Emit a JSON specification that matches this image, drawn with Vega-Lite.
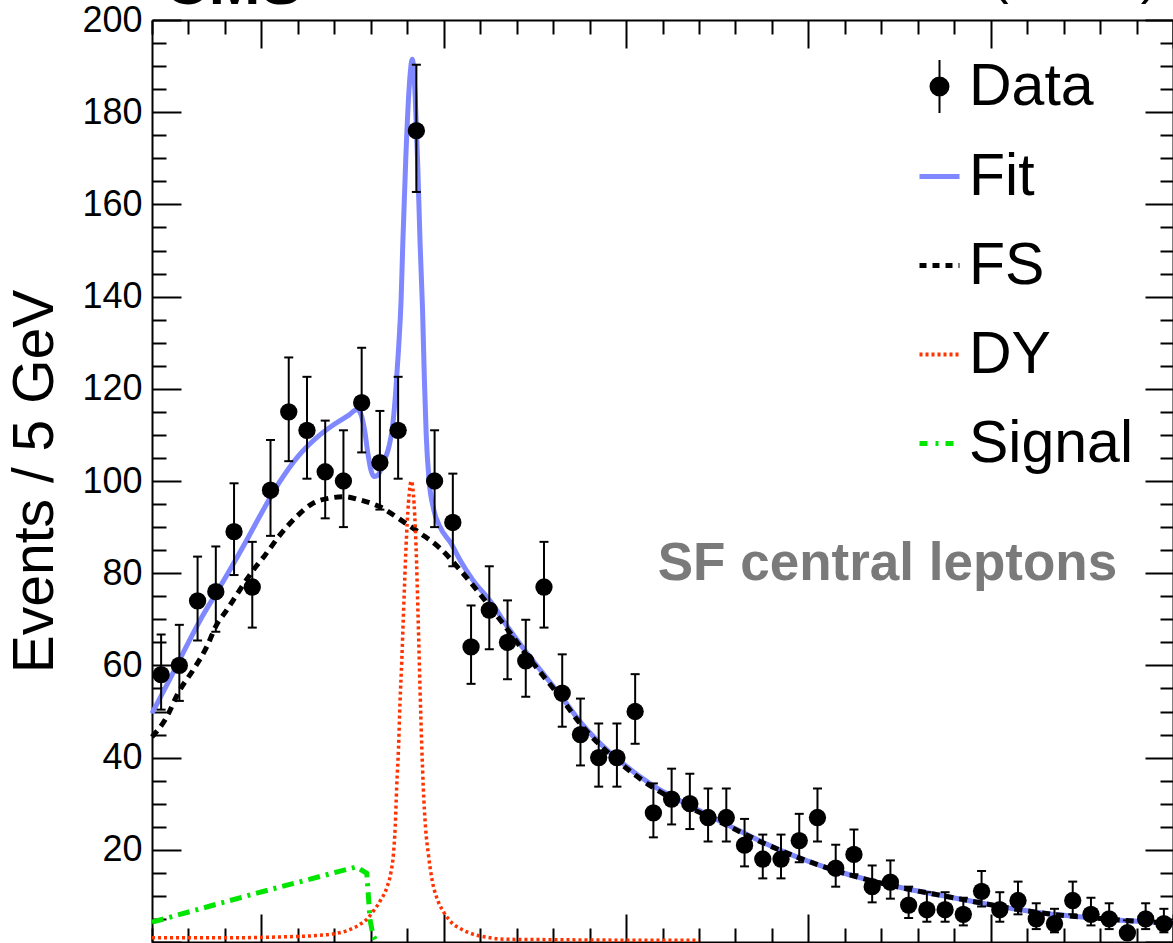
{
  "$schema": "https://vega.github.io/schema/vega-lite/v6.json",
  "autosize": {"type": "none"},
  "padding": {"left": 152, "top": 20, "right": 0, "bottom": 1},
  "width": 1021,
  "height": 922,
  "background": "white",
  "config": {"view": {"stroke": null}},
  "datasets": {
    "curves": [
      {"series": "Fit", "m": 20, "v": 49.6}, {"series": "Fit", "m": 25, "v": 57.2}, {"series": "Fit", "m": 30, "v": 65.0}, {"series": "Fit", "m": 33.2, "v": 69.8}, {"series": "Fit", "m": 38.7, "v": 77.1}, {"series": "Fit", "m": 46, "v": 87.2}, {"series": "Fit", "m": 50, "v": 93.0}, {"series": "Fit", "m": 55, "v": 99.8}, {"series": "Fit", "m": 60, "v": 105.3}, {"series": "Fit", "m": 65, "v": 109.3}, {"series": "Fit", "m": 70, "v": 112.3}, {"series": "Fit", "m": 74, "v": 114.3}, {"series": "Fit", "m": 76.2, "v": 115.5}, {"series": "Fit", "m": 77.3, "v": 114.5}, {"series": "Fit", "m": 78.3, "v": 111}, {"series": "Fit", "m": 79.2, "v": 106}, {"series": "Fit", "m": 80.0, "v": 102.5}, {"series": "Fit", "m": 80.8, "v": 101}, {"series": "Fit", "m": 81.8, "v": 101.2}, {"series": "Fit", "m": 82.8, "v": 102.5}, {"series": "Fit", "m": 84.0, "v": 105}, {"series": "Fit", "m": 85.0, "v": 107.5}, {"series": "Fit", "m": 86.0, "v": 112}, {"series": "Fit", "m": 86.8, "v": 119}, {"series": "Fit", "m": 87.6, "v": 128.5}, {"series": "Fit", "m": 88.3, "v": 139}, {"series": "Fit", "m": 88.8, "v": 152}, {"series": "Fit", "m": 89.6, "v": 170}, {"series": "Fit", "m": 90.5, "v": 185}, {"series": "Fit", "m": 91.4, "v": 191.5}, {"series": "Fit", "m": 92.2, "v": 183}, {"series": "Fit", "m": 92.9, "v": 168}, {"series": "Fit", "m": 93.5, "v": 152}, {"series": "Fit", "m": 94.2, "v": 137}, {"series": "Fit", "m": 94.7, "v": 122}, {"series": "Fit", "m": 95.2, "v": 110}, {"series": "Fit", "m": 96.0, "v": 100}, {"series": "Fit", "m": 97.2, "v": 94}, {"series": "Fit", "m": 99, "v": 90}, {"series": "Fit", "m": 102, "v": 86.5}, {"series": "Fit", "m": 104.5, "v": 82.8}, {"series": "Fit", "m": 108, "v": 78.5}, {"series": "Fit", "m": 112.7, "v": 74}, {"series": "Fit", "m": 117.3, "v": 68.6}, {"series": "Fit", "m": 122, "v": 63.5}, {"series": "Fit", "m": 127, "v": 58.5}, {"series": "Fit", "m": 132.5, "v": 53}, {"series": "Fit", "m": 137.5, "v": 47.7}, {"series": "Fit", "m": 142.5, "v": 43.4}, {"series": "Fit", "m": 147.5, "v": 39.8}, {"series": "Fit", "m": 157.4, "v": 33.9}, {"series": "Fit", "m": 167.4, "v": 29.6}, {"series": "Fit", "m": 177.4, "v": 25.6}, {"series": "Fit", "m": 187.3, "v": 21.7}, {"series": "Fit", "m": 197.3, "v": 18.3}, {"series": "Fit", "m": 207.8, "v": 15.4}, {"series": "Fit", "m": 217.2, "v": 13.3}, {"series": "Fit", "m": 227.2, "v": 11.5}, {"series": "Fit", "m": 237.1, "v": 10}, {"series": "Fit", "m": 247.1, "v": 8.5}, {"series": "Fit", "m": 257.1, "v": 7.1}, {"series": "Fit", "m": 267, "v": 6}, {"series": "Fit", "m": 277, "v": 5.3}, {"series": "Fit", "m": 288, "v": 4.6}, {"series": "Fit", "m": 300, "v": 4.1},

      {"series": "FS", "m": 20, "v": 44.5}, {"series": "FS", "m": 23.6, "v": 48.2}, {"series": "FS", "m": 27.5, "v": 54.5}, {"series": "FS", "m": 31.3, "v": 59}, {"series": "FS", "m": 35, "v": 64}, {"series": "FS", "m": 37.7, "v": 68.8}, {"series": "FS", "m": 40.5, "v": 72}, {"series": "FS", "m": 44.1, "v": 76.4}, {"series": "FS", "m": 47.8, "v": 80.7}, {"series": "FS", "m": 51, "v": 83.9}, {"series": "FS", "m": 55.1, "v": 88.3}, {"series": "FS", "m": 59.7, "v": 92.3}, {"series": "FS", "m": 64.2, "v": 95.2}, {"series": "FS", "m": 68.8, "v": 96.3}, {"series": "FS", "m": 72.9, "v": 96.6}, {"series": "FS", "m": 77, "v": 95.9}, {"series": "FS", "m": 82.5, "v": 94.4}, {"series": "FS", "m": 88.9, "v": 91.2}, {"series": "FS", "m": 93.5, "v": 88.7}, {"series": "FS", "m": 99, "v": 85.4}, {"series": "FS", "m": 104.5, "v": 80.7}, {"series": "FS", "m": 112.7, "v": 72.7}, {"series": "FS", "m": 117.3, "v": 68}, {"series": "FS", "m": 122, "v": 63}, {"series": "FS", "m": 127, "v": 58}, {"series": "FS", "m": 132.5, "v": 52.6}, {"series": "FS", "m": 137.5, "v": 47.3}, {"series": "FS", "m": 142.5, "v": 43}, {"series": "FS", "m": 147.5, "v": 39.4}, {"series": "FS", "m": 157.4, "v": 33.5}, {"series": "FS", "m": 167.4, "v": 29.2}, {"series": "FS", "m": 177.4, "v": 25.4}, {"series": "FS", "m": 187.3, "v": 21.6}, {"series": "FS", "m": 197.3, "v": 18.3}, {"series": "FS", "m": 207.8, "v": 15.4}, {"series": "FS", "m": 217.2, "v": 13.3}, {"series": "FS", "m": 227.2, "v": 11.5}, {"series": "FS", "m": 237.1, "v": 10}, {"series": "FS", "m": 247.1, "v": 8.5}, {"series": "FS", "m": 257.1, "v": 7.1}, {"series": "FS", "m": 267, "v": 6}, {"series": "FS", "m": 277, "v": 5.3}, {"series": "FS", "m": 288, "v": 4.6}, {"series": "FS", "m": 300, "v": 4.1},

      {"series": "DY", "m": 20, "v": 0.9}, {"series": "DY", "m": 40, "v": 0.9}, {"series": "DY", "m": 55, "v": 1.1}, {"series": "DY", "m": 65, "v": 1.4}, {"series": "DY", "m": 70, "v": 1.8}, {"series": "DY", "m": 74, "v": 2.6}, {"series": "DY", "m": 77, "v": 3.8}, {"series": "DY", "m": 79, "v": 5.0}, {"series": "DY", "m": 80.7, "v": 6.7}, {"series": "DY", "m": 82.5, "v": 8.8}, {"series": "DY", "m": 84.4, "v": 11.8}, {"series": "DY", "m": 85.5, "v": 15}, {"series": "DY", "m": 86.2, "v": 19}, {"series": "DY", "m": 86.7, "v": 25}, {"series": "DY", "m": 87.1, "v": 33.5}, {"series": "DY", "m": 87.6, "v": 42}, {"series": "DY", "m": 88.0, "v": 51.7}, {"series": "DY", "m": 88.5, "v": 61}, {"series": "DY", "m": 88.9, "v": 69.8}, {"series": "DY", "m": 89.8, "v": 88}, {"series": "DY", "m": 90.5, "v": 97}, {"series": "DY", "m": 91.1, "v": 100}, {"series": "DY", "m": 91.7, "v": 97}, {"series": "DY", "m": 92.4, "v": 86}, {"series": "DY", "m": 93.0, "v": 69.8}, {"series": "DY", "m": 93.5, "v": 55}, {"series": "DY", "m": 94.0, "v": 42}, {"series": "DY", "m": 94.4, "v": 33.5}, {"series": "DY", "m": 95.0, "v": 25}, {"series": "DY", "m": 95.8, "v": 19}, {"series": "DY", "m": 96.8, "v": 13.5}, {"series": "DY", "m": 98.1, "v": 9.6}, {"series": "DY", "m": 100, "v": 6.5}, {"series": "DY", "m": 101.7, "v": 4.6}, {"series": "DY", "m": 105, "v": 2.7}, {"series": "DY", "m": 108, "v": 1.7}, {"series": "DY", "m": 112, "v": 1.0}, {"series": "DY", "m": 117, "v": 0.6}, {"series": "DY", "m": 130, "v": 0.5}, {"series": "DY", "m": 150, "v": 0.4}, {"series": "DY", "m": 170, "v": 0.4},

      {"series": "Signal", "m": 20, "v": 4.3}, {"series": "Signal", "m": 48.7, "v": 10.6}, {"series": "Signal", "m": 76.1, "v": 16.3}, {"series": "Signal", "m": 78.9, "v": 14.9}, {"series": "Signal", "m": 79.8, "v": 4.8}, {"series": "Signal", "m": 80.6, "v": 1.5}, {"series": "Signal", "m": 81.6, "v": 0}
    ],
    "obs": [
      {"series": "Data", "m": 22.5, "n": 58, "lo": 50.4, "hi": 66.7},
      {"series": "Data", "m": 27.5, "n": 60, "lo": 52.3, "hi": 68.8},
      {"series": "Data", "m": 32.5, "n": 74, "lo": 65.4, "hi": 83.6},
      {"series": "Data", "m": 37.5, "n": 76, "lo": 67.3, "hi": 85.8},
      {"series": "Data", "m": 42.5, "n": 89, "lo": 79.6, "hi": 99.5},
      {"series": "Data", "m": 47.5, "n": 77, "lo": 68.2, "hi": 86.8},
      {"series": "Data", "m": 52.5, "n": 98, "lo": 88.1, "hi": 108.9},
      {"series": "Data", "m": 57.5, "n": 115, "lo": 104.3, "hi": 126.8},
      {"series": "Data", "m": 62.5, "n": 111, "lo": 100.5, "hi": 122.6},
      {"series": "Data", "m": 67.5, "n": 102, "lo": 91.9, "hi": 113.1},
      {"series": "Data", "m": 72.5, "n": 100, "lo": 90.0, "hi": 111.0},
      {"series": "Data", "m": 77.5, "n": 117, "lo": 106.2, "hi": 128.9},
      {"series": "Data", "m": 82.5, "n": 104, "lo": 93.8, "hi": 115.2},
      {"series": "Data", "m": 87.5, "n": 111, "lo": 100.5, "hi": 122.6},
      {"series": "Data", "m": 92.5, "n": 176, "lo": 162.7, "hi": 190.3},
      {"series": "Data", "m": 97.5, "n": 100, "lo": 90.0, "hi": 111.0},
      {"series": "Data", "m": 102.5, "n": 91, "lo": 81.5, "hi": 101.6},
      {"series": "Data", "m": 107.5, "n": 64, "lo": 56.0, "hi": 73.0},
      {"series": "Data", "m": 112.5, "n": 72, "lo": 63.5, "hi": 81.5},
      {"series": "Data", "m": 117.5, "n": 65, "lo": 57.0, "hi": 74.1},
      {"series": "Data", "m": 122.5, "n": 61, "lo": 53.2, "hi": 69.9},
      {"series": "Data", "m": 127.5, "n": 77, "lo": 68.2, "hi": 86.8},
      {"series": "Data", "m": 132.5, "n": 54, "lo": 46.7, "hi": 62.4},
      {"series": "Data", "m": 137.5, "n": 45, "lo": 38.3, "hi": 52.8},
      {"series": "Data", "m": 142.5, "n": 40, "lo": 33.7, "hi": 47.4},
      {"series": "Data", "m": 147.5, "n": 40, "lo": 33.7, "hi": 47.4},
      {"series": "Data", "m": 152.5, "n": 50, "lo": 43.0, "hi": 58.1},
      {"series": "Data", "m": 157.5, "n": 28, "lo": 22.7, "hi": 34.4},
      {"series": "Data", "m": 162.5, "n": 31, "lo": 25.5, "hi": 37.6},
      {"series": "Data", "m": 167.5, "n": 30, "lo": 24.5, "hi": 36.5},
      {"series": "Data", "m": 172.5, "n": 27, "lo": 21.8, "hi": 33.3},
      {"series": "Data", "m": 177.5, "n": 27, "lo": 21.8, "hi": 33.3},
      {"series": "Data", "m": 182.5, "n": 21, "lo": 16.4, "hi": 26.7},
      {"series": "Data", "m": 187.5, "n": 18, "lo": 13.8, "hi": 23.3},
      {"series": "Data", "m": 192.5, "n": 18, "lo": 13.8, "hi": 23.3},
      {"series": "Data", "m": 197.5, "n": 22, "lo": 17.3, "hi": 27.8},
      {"series": "Data", "m": 202.5, "n": 27, "lo": 21.8, "hi": 33.3},
      {"series": "Data", "m": 207.5, "n": 16, "lo": 12.0, "hi": 21.1},
      {"series": "Data", "m": 212.5, "n": 19, "lo": 14.7, "hi": 24.4},
      {"series": "Data", "m": 217.5, "n": 12, "lo": 8.6, "hi": 16.6},
      {"series": "Data", "m": 222.5, "n": 13, "lo": 9.4, "hi": 17.7},
      {"series": "Data", "m": 227.5, "n": 8, "lo": 5.2, "hi": 12.0},
      {"series": "Data", "m": 232.5, "n": 7, "lo": 4.4, "hi": 10.8},
      {"series": "Data", "m": 237.5, "n": 7, "lo": 4.4, "hi": 10.8},
      {"series": "Data", "m": 242.5, "n": 6, "lo": 3.6, "hi": 9.6},
      {"series": "Data", "m": 247.5, "n": 11, "lo": 7.7, "hi": 15.4},
      {"series": "Data", "m": 252.5, "n": 7, "lo": 4.4, "hi": 10.8},
      {"series": "Data", "m": 257.5, "n": 9, "lo": 6.0, "hi": 13.1},
      {"series": "Data", "m": 262.5, "n": 5, "lo": 2.8, "hi": 8.4},
      {"series": "Data", "m": 267.5, "n": 4, "lo": 2.1, "hi": 7.2},
      {"series": "Data", "m": 272.5, "n": 9, "lo": 6.0, "hi": 13.1},
      {"series": "Data", "m": 277.5, "n": 6, "lo": 3.6, "hi": 9.6},
      {"series": "Data", "m": 282.5, "n": 5, "lo": 2.8, "hi": 8.4},
      {"series": "Data", "m": 287.5, "n": 2, "lo": 0.7, "hi": 4.7},
      {"series": "Data", "m": 292.5, "n": 5, "lo": 2.8, "hi": 8.4},
      {"series": "Data", "m": 297.5, "n": 4, "lo": 2.1, "hi": 7.2}
    ]
  },
  "resolve": {"axis": {"x": "independent", "y": "independent"}},
  "layer": [
    {
      "data": {"name": "curves"},
      "transform": [{"filter": "datum.series === 'Fit'"}],
      "mark": {"type": "line", "strokeWidth": 5, "interpolate": "monotone"},
      "encoding": {
        "x": {"field": "m", "type": "quantitative", "scale": {"domain": [20, 300], "nice": false, "zero": false},
          "axis": {"orient": "bottom", "values": [20,30,40,50,60,70,80,90,100,110,120,130,140,150,160,170,180,190,200,210,220,230,240,250,260,270,280,290,300],
            "labels": false, "title": null, "grid": false, "domainColor": "#000000", "domainWidth": 2, "tickColor": "#000000", "tickWidth": 2,
            "tickSize": {"condition": {"test": "datum.value % 50 === 0", "value": -28}, "value": -14}}},
        "y": {"field": "v", "type": "quantitative", "scale": {"domain": [0, 200], "nice": false, "zero": true},
          "axis": {"orient": "left", "values": [0,5,10,15,20,25,30,35,40,45,50,55,60,65,70,75,80,85,90,95,100,105,110,115,120,125,130,135,140,145,150,155,160,165,170,175,180,185,190,195,200],
            "labelExpr": "datum.value % 20 === 0 && datum.value > 0 ? datum.label : ''",
            "labelFont": "Liberation Sans", "labelFontSize": 36, "labelColor": "#000000", "labelPadding": 39, "labelFlush": false, "labelOverlap": false, "labelBound": false,
            "grid": false, "domainColor": "#000000", "domainWidth": 2, "tickColor": "#000000", "tickWidth": 2,
            "tickSize": {"condition": {"test": "datum.value % 20 === 0", "value": -29}, "value": -14},
            "title": "Events / 5 GeV", "titleFont": "Liberation Sans", "titleFontSize": 57, "titleFontWeight": "normal", "titleColor": "#000000",
            "titleAngle": -90, "titleAlign": "center", "titleBaseline": "alphabetic", "titleX": -100, "titleY": 461}},
        "color": {"field": "series", "type": "nominal",
          "scale": {"domain": ["Data", "Fit", "FS", "DY", "Signal"], "range": ["#000000", "#7f88ff", "#000000", "#ff3300", "#00e600"]},
          "legend": {"orient": "none", "legendX": 758, "legendY": 37, "title": null, "direction": "vertical", "padding": 0,
            "labelFont": "Liberation Sans", "labelFontSize": 59, "labelColor": "#000000", "labelLimit": 400, "labelOffset": 0,
            "symbolType": "stroke", "symbolSize": 1600, "symbolStrokeWidth": 5, "rowPadding": 29,
            "encode": {"symbols": {"update": {
              "shape": {"signal": "datum.value === 'Data' ? 'M0,-1.33V1.33M-0.45,0A0.45,0.45 0 1 0 0.45,0A0.45,0.45 0 1 0 -0.45,0Z' : 'stroke'"},
              "fill": {"signal": "datum.value === 'Data' ? '#000000' : 'transparent'"},
              "stroke": {"signal": "datum.value === 'Fit' ? '#7f88ff' : datum.value === 'DY' ? '#ff3300' : datum.value === 'Signal' ? '#00e600' : '#000000'"},
              "strokeWidth": {"signal": "datum.value === 'Data' ? 2 : datum.value === 'DY' ? 4 : 5"},
              "strokeDash": {"signal": "datum.value === 'FS' ? [7,6] : datum.value === 'DY' ? [3,3] : datum.value === 'Signal' ? [8,8,3,7] : []"},
              "opacity": {"value": 1}
            }}}}}
      }
    },
    {
      "data": {"name": "curves"},
      "transform": [{"filter": "datum.series === 'FS'"}],
      "mark": {"type": "line", "strokeWidth": 5, "strokeDash": [8, 6], "interpolate": "monotone"},
      "encoding": {
        "x": {"field": "m", "type": "quantitative",
          "axis": {"orient": "top", "values": [20,30,40,50,60,70,80,90,100,110,120,130,140,150,160,170,180,190,200,210,220,230,240,250,260,270,280,290,300],
            "labels": false, "title": null, "grid": false, "domainColor": "#000000", "domainWidth": 2, "tickColor": "#000000", "tickWidth": 2,
            "tickSize": {"condition": {"test": "datum.value % 50 === 0", "value": -28}, "value": -14}}},
        "y": {"field": "v", "type": "quantitative",
          "axis": {"orient": "right", "values": [0,5,10,15,20,25,30,35,40,45,50,55,60,65,70,75,80,85,90,95,100,105,110,115,120,125,130,135,140,145,150,155,160,165,170,175,180,185,190,195,200],
            "labels": false, "title": null, "grid": false, "domainColor": "#000000", "domainWidth": 2, "tickColor": "#000000", "tickWidth": 2,
            "tickSize": {"condition": {"test": "datum.value % 20 === 0", "value": -28}, "value": -13}}},
        "color": {"field": "series", "type": "nominal", "legend": null}
      }
    },
    {
      "data": {"name": "curves"},
      "transform": [{"filter": "datum.series === 'DY'"}],
      "mark": {"type": "line", "strokeWidth": 3.5, "strokeDash": [3, 3], "interpolate": "monotone"},
      "encoding": {
        "x": {"field": "m", "type": "quantitative", "axis": null},
        "y": {"field": "v", "type": "quantitative", "axis": null},
        "color": {"field": "series", "type": "nominal", "legend": null}
      }
    },
    {
      "data": {"name": "curves"},
      "transform": [{"filter": "datum.series === 'Signal'"}],
      "mark": {"type": "line", "strokeWidth": 5, "strokeDash": [12, 6, 3, 6]},
      "encoding": {
        "x": {"field": "m", "type": "quantitative", "axis": null},
        "y": {"field": "v", "type": "quantitative", "axis": null},
        "color": {"field": "series", "type": "nominal", "legend": null}
      }
    },
    {
      "data": {"name": "obs"},
      "mark": {"type": "rule", "strokeWidth": 2, "color": "#000000"},
      "encoding": {
        "x": {"field": "m", "type": "quantitative", "axis": null},
        "y": {"field": "lo", "type": "quantitative", "axis": null},
        "y2": {"field": "hi"}
      }
    },
    {
      "data": {"name": "obs"},
      "mark": {"type": "tick", "orient": "horizontal", "size": 9, "thickness": 2, "color": "#000000", "opacity": 1},
      "encoding": {
        "x": {"field": "m", "type": "quantitative", "axis": null},
        "y": {"field": "lo", "type": "quantitative", "axis": null}
      }
    },
    {
      "data": {"name": "obs"},
      "mark": {"type": "tick", "orient": "horizontal", "size": 9, "thickness": 2, "color": "#000000", "opacity": 1},
      "encoding": {
        "x": {"field": "m", "type": "quantitative", "axis": null},
        "y": {"field": "hi", "type": "quantitative", "axis": null}
      }
    },
    {
      "data": {"name": "obs"},
      "mark": {"type": "point", "shape": "circle", "filled": true, "size": 300, "opacity": 1},
      "encoding": {
        "x": {"field": "m", "type": "quantitative", "axis": null},
        "y": {"field": "n", "type": "quantitative", "axis": null},
        "color": {"field": "series", "type": "nominal", "legend": null}
      }
    },
    {
      "data": {"values": [{"label": "SF central leptons"}]},
      "mark": {"type": "text", "font": "Liberation Sans", "fontWeight": "bold", "fontSize": 53, "color": "#7a7a7a", "align": "center", "baseline": "alphabetic"},
      "encoding": {
        "x": {"datum": 221.7, "type": "quantitative", "axis": null},
        "y": {"datum": 78.5, "type": "quantitative", "axis": null},
        "text": {"field": "label"}
      }
    },
    {
      "data": {"values": [{"label": "CMS"}]},
      "mark": {"type": "text", "font": "Liberation Sans", "fontWeight": "bold", "fontSize": 62, "color": "#000000", "align": "left", "baseline": "alphabetic", "dx": 12, "dy": -16},
      "encoding": {
        "x": {"datum": 20, "type": "quantitative", "axis": null},
        "y": {"datum": 200, "type": "quantitative", "axis": null},
        "text": {"field": "label"}
      }
    },
    {
      "data": {"values": [{"label": "(8 TeV)"}]},
      "mark": {"type": "text", "font": "Liberation Sans", "fontSize": 52, "color": "#000000", "align": "right", "baseline": "alphabetic", "dx": -15, "dy": -27},
      "encoding": {
        "x": {"datum": 300, "type": "quantitative", "axis": null},
        "y": {"datum": 200, "type": "quantitative", "axis": null},
        "text": {"field": "label"}
      }
    }
  ]
}
